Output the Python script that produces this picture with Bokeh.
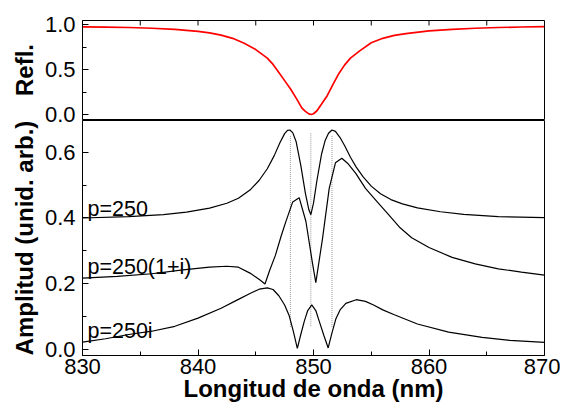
import math
from bokeh.plotting import figure
from bokeh.models import Range1d, FixedTicker, PrintfTickFormatter
from bokeh.layouts import column
from bokeh.embed import file_html
from bokeh.resources import INLINE
from bokeh.core.properties import value

# ---------------- data ----------------
# Reflectance (top panel)
refl_x = [830, 832, 834, 836, 838, 840, 841, 842, 843, 844, 845, 846, 846.5, 847, 847.5,
          848, 848.5, 849, 849.3, 849.6, 849.8, 850.0, 850.3, 850.7, 851.2, 851.7, 852.2,
          852.7, 853.2, 854, 855, 856, 857, 858, 860, 862, 864, 866, 868, 870]
refl_y = [0.978, 0.975, 0.970, 0.962, 0.950, 0.928, 0.910, 0.885, 0.850, 0.795, 0.725, 0.630,
          0.560, 0.470, 0.380, 0.290, 0.185, 0.075, 0.038, 0.010, 0.003, 0.012, 0.045, 0.120,
          0.215, 0.340, 0.460, 0.555, 0.630, 0.710, 0.800, 0.850, 0.882, 0.903, 0.933, 0.950,
          0.962, 0.970, 0.976, 0.980]

# Amplitude, p=250
a_x = [830, 834, 837, 839, 841, 842.5, 843.5, 844.5, 845.3, 846, 846.6, 847.1, 847.5, 847.75,
       847.95, 848.2, 848.5, 848.9, 849.3, 849.6, 849.77, 850.0, 850.3, 850.7, 851.0, 851.3,
       851.6, 851.9, 852.3, 852.7, 853.2, 853.7, 854.3, 855.0, 855.8, 856.7, 857.7, 859, 861,
       863, 866, 870]
a_y = [0.400, 0.404, 0.410, 0.418, 0.430, 0.445, 0.460, 0.485, 0.515, 0.550, 0.590, 0.630,
       0.657, 0.667, 0.668, 0.660, 0.632, 0.560, 0.475, 0.425, 0.410, 0.445, 0.515, 0.595,
       0.635, 0.658, 0.668, 0.664, 0.645, 0.620, 0.585, 0.555, 0.525, 0.497, 0.474, 0.456,
       0.443, 0.431, 0.419, 0.411, 0.404, 0.401]

# Amplitude, p=250(1+i)
b_x = [830, 833, 836, 838.7, 841, 842.5, 843.5, 844.5, 845.0, 845.4, 845.8, 846.2, 846.7,
       847.2, 847.6, 848.2, 848.76, 849.34, 849.9, 850.2, 850.78, 851.36, 851.9, 852.45,
       853.0, 853.66, 854.5, 855.5, 856.5, 857.5, 858.5, 860, 862, 864, 866, 868, 870]
b_y = [0.217, 0.222, 0.230, 0.242, 0.250, 0.253, 0.250, 0.232, 0.220, 0.210, 0.199, 0.240,
       0.286, 0.345, 0.388, 0.449, 0.462, 0.390, 0.265, 0.203, 0.337, 0.490, 0.568, 0.582,
       0.565, 0.536, 0.490, 0.450, 0.410, 0.370, 0.340, 0.310, 0.280, 0.260, 0.245, 0.235,
       0.226]

# Amplitude, p=250i
c_x = [830, 832, 834, 836, 838, 840, 842, 843.5, 844.5, 845.3, 846.0, 846.5, 847.0, 847.5,
       847.9, 848.25, 848.6, 848.9, 849.2, 849.5, 849.85, 850.2, 850.5, 850.9, 851.27, 851.6,
       851.93, 852.3, 852.8, 853.7, 854.5, 855.2, 856.0, 857.0, 859, 861.7, 864.6, 867, 870]
c_y = [0.022, 0.032, 0.045, 0.055, 0.070, 0.095, 0.125, 0.152, 0.170, 0.183, 0.187, 0.182,
       0.163, 0.135, 0.102, 0.055, 0.003, 0.045, 0.085, 0.118, 0.135, 0.118, 0.085, 0.042,
       0.004, 0.050, 0.092, 0.120, 0.140, 0.151, 0.146, 0.135, 0.120, 0.105, 0.077, 0.052,
       0.036, 0.027, 0.021]

# dotted vertical markers
mark_x = [848.0, 849.77, 851.6]
mark_y0 = [0.068, 0.070, 0.068]
mark_y1 = [0.652, 0.660, 0.652]

# series labels
lab_text = ["p=250", "p=250(1+i)", "p=250i"]
lab_x = [830.43, 830.43, 830.43]
lab_y = [0.426, 0.250, 0.057]

# ticks
x_major = [830, 840, 850, 860, 870]
x_minor = [835, 845, 855, 865]
x_top = [835, 840, 845, 850, 855, 860, 865]
refl_major = [0.0, 0.5, 1.0]
refl_minor = [0.25, 0.75]
amp_major = [0.0, 0.2, 0.4, 0.6]
amp_minor = [0.1, 0.3, 0.5]

# axis ranges
X_RANGE = (830, 870)
REFL_RANGE = (-0.052, 1.048)
AMP_RANGE = (-0.019, 0.697)

FONT = "Liberation Sans"


def style_axis(ax):
    ax.major_tick_in = 6
    ax.major_tick_out = 0
    ax.minor_tick_in = 4
    ax.minor_tick_out = 0
    ax.axis_line_color = "black"
    ax.major_tick_line_color = "black"
    ax.minor_tick_line_color = "black"
    ax.major_label_text_font = FONT
    ax.major_label_text_font_size = "22px"
    ax.major_label_text_color = "black"
    ax.axis_label_text_font = FONT
    ax.axis_label_text_font_style = "bold"
    ax.axis_label_text_font_size = "24px"
    ax.axis_label_text_color = "black"
    ax.formatter = PrintfTickFormatter(format="%.1f")


# ---------------- top panel ----------------
p1 = figure(width=560, height=128, x_range=Range1d(*X_RANGE), y_range=Range1d(*REFL_RANGE),
            output_backend="svg", toolbar_location=None, x_axis_location=None,
            min_border_left=82, min_border_right=16, min_border_top=20, min_border_bottom=9)
p1.line(refl_x, refl_y, line_color="#ff0000", line_width=1.7)
# inward tick marks along the top edge of the upper panel
p1.scatter(x=x_top, y=[REFL_RANGE[1]] * len(x_top), marker="dash", angle=math.pi / 2,
           size=10, line_color="black", line_width=1)
p1.grid.visible = False
p1.outline_line_color = "black"
p1.outline_line_alpha = 1
ya1 = p1.yaxis[0]
ya1.ticker = FixedTicker(ticks=refl_major, minor_ticks=refl_minor)
style_axis(ya1)
ya1.axis_label = "Refl."
ya1.major_label_standoff = 7
ya1.axis_label_standoff = 4

# ---------------- bottom panel ----------------
p2 = figure(width=560, height=291, x_range=Range1d(*X_RANGE), y_range=Range1d(*AMP_RANGE),
            output_backend="svg", toolbar_location=None,
            min_border_left=82, min_border_right=16, min_border_top=1, min_border_bottom=55)
p2.margin = (-9, 0, 0, 0)
p2.border_fill_color = None
p2.background_fill_color = None
p2.grid.visible = False
p2.outline_line_color = "black"
p2.outline_line_alpha = 1

p2.segment(x0=mark_x, y0=mark_y0, x1=mark_x, y1=mark_y1, line_color="#9a9a9a",
           line_width=1, line_dash="1 1")
p2.line(a_x, a_y, line_color="black", line_width=1.2)
p2.line(b_x, b_y, line_color="black", line_width=1.2)
p2.line(c_x, c_y, line_color="black", line_width=1.2)
p2.text(x=lab_x, y=lab_y, text=lab_text, text_font=value(FONT), text_font_size="21.5px",
        text_color="black", text_align="left", text_baseline="alphabetic")

xa = p2.xaxis[0]
xa.ticker = FixedTicker(ticks=x_major, minor_ticks=x_minor)
style_axis(xa)
xa.formatter = PrintfTickFormatter(format="%d")
xa.axis_label = "Longitud de onda (nm)"
xa.major_label_standoff = 3
xa.axis_label_standoff = -2

ya2 = p2.yaxis[0]
ya2.ticker = FixedTicker(ticks=amp_major, minor_ticks=amp_minor)
style_axis(ya2)
ya2.axis_label = "Amplitud (unid. arb.)"
ya2.major_label_standoff = 7
ya2.axis_label_standoff = 4

layout = column(p1, p2, spacing=0)
open("out.html", "w").write(file_html(layout, INLINE))
